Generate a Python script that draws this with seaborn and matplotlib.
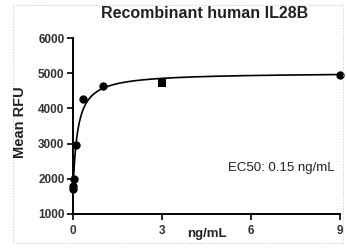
import numpy as np
import pandas as pd
import matplotlib
matplotlib.use("Agg")
import matplotlib.pyplot as plt
import seaborn as sns
from matplotlib.patches import Rectangle

# Data
conc = [9, 1, 0.33, 0.11, 0.037, 0.012, 0.004]
rfu = [4950, 4640, 4280, 2950, 1990, 1800, 1720]
sq_conc = [3]
sq_rfu = [4730]

# 4PL fit parameters
bottom, top, ec50, hill = 1550, 5020, 0.15, 1.0

x_ticks = [0, 3, 6, 9]
y_ticks = [1000, 2000, 3000, 4000, 5000, 6000]

sns.set_theme(style="white")
plt.rcParams['font.family'] = ['Liberation Sans', 'DejaVu Sans']

fig = plt.figure(figsize=(3.47, 2.49), dpi=100)
ax = fig.add_axes([0.210, 0.141, 0.770, 0.706])

xc = np.linspace(0.0005, 9, 600)
curve = pd.DataFrame({"x": xc, "y": bottom + (top - bottom) / (1 + (ec50 / xc) ** hill)})
sns.lineplot(data=curve, x="x", y="y", ax=ax, color="black", linewidth=1.2)

pts = pd.DataFrame({"x": conc, "y": rfu})
sns.scatterplot(data=pts, x="x", y="y", ax=ax, color="black", s=36, marker="o",
                edgecolor="black", linewidth=0, clip_on=False, zorder=5)
sq = pd.DataFrame({"x": sq_conc, "y": sq_rfu})
sns.scatterplot(data=sq, x="x", y="y", ax=ax, color="black", s=36, marker="s",
                edgecolor="black", linewidth=0, clip_on=False, zorder=5)

ax.set_xlim(0, 9)
ax.set_ylim(1000, 6000)
ax.set_xticks(x_ticks)
ax.set_yticks(y_ticks)
ax.set_xticklabels([str(t) for t in x_ticks], fontsize=8.5, fontweight="bold", color="#333333")
ax.set_yticklabels([str(t) for t in y_ticks], fontsize=8.5, fontweight="bold", color="#333333")
ax.tick_params(axis="x", direction="out", length=4, width=1.2, color="black",
               bottom=True, pad=4)
ax.tick_params(axis="y", direction="out", length=4, width=1.2, color="black",
               left=True, pad=2)
for s in ["top", "right"]:
    ax.spines[s].set_visible(False)
for s in ["left", "bottom"]:
    ax.spines[s].set_color("black")
    ax.spines[s].set_linewidth(1.4)

ax.set_xlabel("")
ax.set_ylabel("")
fig.text(0.597, 0.062, "ng/mL", ha="center", va="center", fontsize=9.5, fontweight="bold",
         color="#222222")
fig.text(0.058, 0.51, "Mean RFU", ha="center", va="center", rotation=90,
         fontsize=10.5, fontweight="bold", color="#222222")
fig.text(0.59, 0.945, "Recombinant human IL28B", ha="center", va="center",
         fontsize=11.5, fontweight="bold", color="#222222")
ax.text(0.98, 0.26, "EC50: 0.15 ng/mL", transform=ax.transAxes, ha="right",
        va="center", fontsize=9.5, color="#222222")

fig.patches.append(Rectangle((0.038, 0.025), 0.95, 0.955, transform=fig.transFigure,
                             fill=False, edgecolor="#cccccc", linewidth=0.8,
                             linestyle=(0, (1, 1.5))))

fig.savefig("out.png", dpi=100)
